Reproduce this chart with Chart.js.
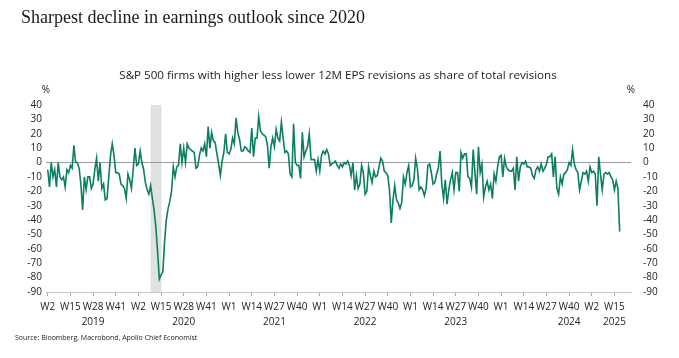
<!DOCTYPE html>
<html>
<head>
<meta charset="utf-8">
<script src="https://cdn.jsdelivr.net/npm/chart.js@4.4.1/dist/chart.umd.min.js"></script>
<style>
  html, body { margin: 0; padding: 0; background: #fff; }
  #wrap { position: relative; width: 679px; height: 358px; }
</style>
</head>
<body>
<div id="wrap"><canvas id="epsChart"></canvas></div>
<script>
// S&P 500: higher less lower 12M EPS revisions as % of total, weekly
const rev2019 = [-5, -17, 0, -10, -5, -17, 0, -10, -12, -10,
  -17, -5, -7, -2, -4, 12, 0, 0, -4, -15,
  -33, -10, -19, -10, -10, -18, -15, -5, 3, -13,
  0, -18, -15, -26, -25, -10, 5, 13, 5, -7,
  -7, -8, -15, -16, -18, -25, -8, -12, -18, -5,
  10];
const rev2020 = [-2, -1, 8, 0, -5, -14, -19, -22, -16, -25,
  -33, -45, -62, -81, -78, -76, -55, -40, -32, -27,
  -20, -3, -10, -3, -2, 13, 0, 10, 0, 13,
  10, 9, 8, 7, -4, -3, 5, 10, 8, 13,
  4, 25, 10, 21, 15, 14, 6, -1, -9, 1,
  7, 20, 7];
const rev2021 = [6, 9, 17, 13, 31, 21, 16, 8, 8, 11,
  10, 8, 7, 24, 4, 17, 17, 32, 22, 20,
  19, 18, 12, -4, 11, 17, 11, 23, 17, 15,
  28, 17, 7, 8, 6, -8, -10, 27, 0, -2,
  -2, -11, 21, 4, 8, 11, 20, 2, 2, 2,
  -6, 2];
const rev2022 = [-6, 5, 8, 6, 9, 6, -2, -1, 0, 1,
  -2, -4, -1, -3, 0, -1, 1, -2, -9, 0,
  -19, -9, -18, -15, -2, -7, -22, -20, -3, -9,
  -14, -6, -10, -9, -3, 3, 1, -6, -7, -9,
  -19, -42, -26, -16, -26, -28, -32, -28, -10, -15,
  -7, -2];
const rev2023 = [-17, -16, -12, 3, -4, -19, -17, -19, -23, -18,
  -2, -1, -7, -15, -14, -8, -4, 8, -15, -25,
  -12, -29, -19, -12, -7, -19, -7, -7, -20, 7,
  3, 6, 6, -10, -11, -17, 9, -7, -22, 11,
  -7, -1, -24, -17, -13, -19, -15, -25, -8, -13,
  -3, 4];
const rev2024 = [5, -10, 3, -3, -5, -6, -6, -4, -19, 4,
  -13, -3, 0, -1, 1, -3, -3, -4, -9, -11,
  -5, -3, -6, -1, -6, -4, -1, 4, 4, 6,
  -10, 4, -18, -22, -10, -15, -8, -7, -5, 0,
  -2, 9, -1, -5, -7, -19, -13, -7, -8, -6,
  -13, -3];
const rev2025 = [-7, -6, -8, -30, 4, -8, -19, -8, -7, -8, -7, -10, -12, -19, -13, -18, -48];

// x axis: one label every 13 weeks, year written under some of them
const weekTicks = ['W2', 'W15', 'W28', 'W41', 'W2', 'W15', 'W28', 'W41',
  'W1', 'W14', 'W27', 'W40', 'W1', 'W14', 'W27', 'W40', 'W1', 'W14', 'W27', 'W40',
  'W1', 'W14', 'W27', 'W40', 'W2', 'W15'];
const yearNames = ['2019', '2020', '2021', '2022', '2023', '2024', '2025'];
const yearTickAt = [2, 6, 10, 14, 18, 23, 25];
const recession = [59, 65.2]; // shaded weeks, 2020

const revisions = [].concat(rev2019, rev2020, rev2021, rev2022, rev2023, rev2024, rev2025);
const points = revisions.map((v, i) => ({ x: i, y: v }));

const tickFont = { family: "'Open Sans', sans-serif", size: 10, lineHeight: 1.45 };
const inkColor = '#222';

const decor = {
    id: 'decor',
    beforeDraw(chart) {
        const { ctx, chartArea: a, scales: { x } } = chart;
        const x0 = x.getPixelForValue(recession[0]);
        const x1 = x.getPixelForValue(recession[1]);
        ctx.save();
        ctx.fillStyle = '#e0e1e1';
        ctx.fillRect(x0, a.top, x1 - x0, a.bottom - a.top);
        ctx.restore();
    },
    afterDraw(chart) {
        const { ctx, chartArea: a } = chart;
        ctx.save();
        ctx.fillStyle = '#1a1a1a';
        ctx.textBaseline = 'alphabetic';
        ctx.textAlign = 'left';
        ctx.font = "18px 'Liberation Serif', serif";
        ctx.fillText('Sharpest decline in earnings outlook since 2020', 21, 23);

        ctx.fillStyle = inkColor;
        ctx.textAlign = 'center';
        ctx.font = "11.6px 'Open Sans', sans-serif";
        ctx.fillText('S&P 500 firms with higher less lower 12M EPS revisions as share of total revisions', 338, 79);

        ctx.font = "10px 'Open Sans', sans-serif";
        ctx.textBaseline = 'middle';
        ctx.fillText('%', 46, 90);
        ctx.fillText('%', 631, 90);

        ctx.textAlign = 'left';
        ctx.textBaseline = 'alphabetic';
        ctx.font = "7px 'Open Sans', sans-serif";
        ctx.fillText('Source: Bloomberg, Macrobond, Apollo Chief Economist', 15, 340);
        ctx.restore();
    }
};

const ctx = document.getElementById('epsChart').getContext('2d');
const epsChart = new Chart(ctx, {
    type: 'line',
    data: {
        datasets: [{
            label: 'EPS revisions',
            data: points,
            borderColor: '#0b7e63',
            borderWidth: 1.6,
            pointRadius: 0,
            tension: 0,
            yAxisID: 'y'
        }]
    },
    options: {
        responsive: true,
        maintainAspectRatio: false,
        animation: false,
        layout: {
            padding: { top: 105, bottom: 22, left: 0, right: 0 }
        },
        plugins: {
            legend: { display: false },
            tooltip: { enabled: false }
        },
        scales: {
            x: {
                type: 'linear',
                min: -1,
                max: 334.5,
                afterBuildTicks: (scale) => {
                    scale.ticks = weekTicks.map((w, k) => ({ value: k * 13 }));
                },
                ticks: {
                    autoSkip: false,
                    maxRotation: 0,
                    font: tickFont,
                    color: inkColor,
                    padding: 4,
                    callback: function(value, k) {
                        const y = yearTickAt.indexOf(k);
                        return [weekTicks[k], y >= 0 ? yearNames[y] : ''];
                    }
                },
                grid: { drawOnChartArea: false, tickLength: 4, color: '#aaa' },
                border: { color: '#c8c8c8' },
                afterFit: (scale) => { scale.height = 44; }
            },
            y: {
                position: 'left',
                min: -90,
                max: 40,
                ticks: { stepSize: 10, autoSkip: false, font: tickFont, color: inkColor, padding: 4 },
                grid: {
                    drawTicks: false,
                    color: (c) => c.tick && c.tick.value === 0 ? '#9a9a9a' : 'rgba(0,0,0,0)'
                },
                border: { display: false },
                afterFit: (scale) => { scale.width = 46; }
            },
            y2: {
                position: 'right',
                min: -90,
                max: 40,
                ticks: { stepSize: 10, autoSkip: false, font: tickFont, color: inkColor, padding: 4 },
                grid: { display: false },
                border: { display: false },
                afterFit: (scale) => { scale.width = 48; }
            }
        }
    },
    plugins: [decor]
});
</script>
</body>
</html>
